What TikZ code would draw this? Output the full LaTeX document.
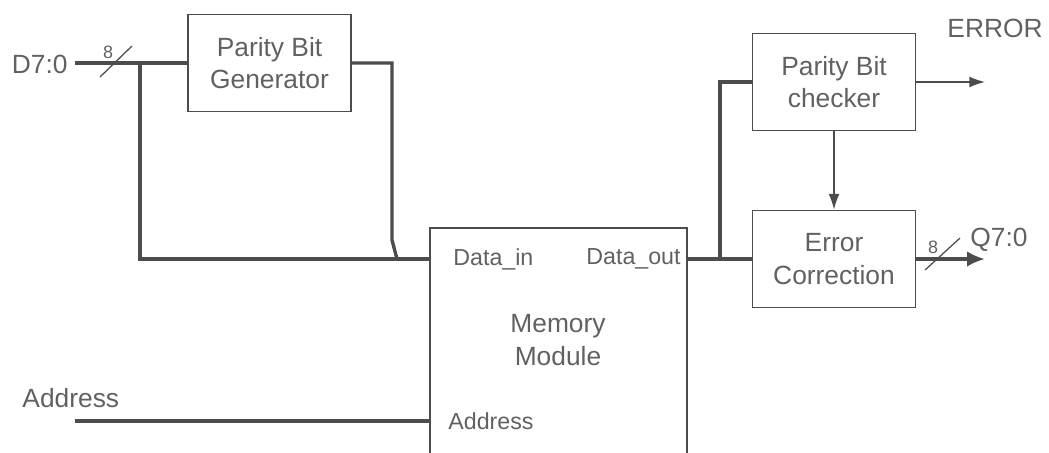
\documentclass[tikz,border=0pt]{standalone}
\usepackage{fontspec}
\setmainfont{Liberation Sans}
\usetikzlibrary{arrows.meta,positioning,calc}

\definecolor{wire}{gray}{0.30}
\definecolor{ink}{gray}{0.38}

\begin{document}
\begin{tikzpicture}[
  x=1cm/60, y=-1cm/60,
  font=\fontsize{12.5}{15.5}\selectfont,
  box/.style={draw=wire,line width=.8pt,align=center,text=ink,inner sep=0pt,
    minimum width=2.72cm,minimum height=1.62cm},
  lbl/.style={text=ink,inner sep=0pt,align=center},
  port/.style={lbl,font=\fontsize{11}{13}\selectfont},
  buswidth/.style={lbl,font=\fontsize{8.5}{9}\selectfont},
  bus/.style={draw=wire,line width=1.6pt},
  sig/.style={draw=wire,line width=.6pt,-{Latex[length=2.6mm,width=1.8mm]}},
  busarr/.style={bus,-{Latex[length=3mm,width=2.6mm]}},
  slash/.style={draw=wire,line width=.6pt}
]
\useasboundingbox (0,0) rectangle (1049,452);
\clip (0,0) rectangle (1049,452);

% blocks
\node[box] (gen) at (269.5,63) {Parity Bit\\Generator};
\node[box] (chk) at (834,82) {Parity Bit\\checker};
\node[box] (corr) at (834,259) {Error\\Correction};
\node[box,minimum width=4.28cm,minimum height=5cm,anchor=north] (mem) at (558.5,227) {};
\node[lbl] (memtxt) at (558,340) {Memory\\Module};

% ports of the memory
\node[port,anchor=west] (pdin) at (453,259) {Data\_in};
\node[port,anchor=east] (pdout) at (681,259) {Data\_out};
\node[port,anchor=west] (paddr) at (448,421) {Address};

% outside labels
\node[lbl,anchor=east] (din) at (68,64) {D7:0};
\node[lbl,anchor=west] (addr) at (22,398) {Address};
\node[lbl] (err) at (995,28) {ERROR};
\node[lbl] (qout) at (999,240) {Q7:0};

\coordinate (d0) at (75,63);
\coordinate (j1) at (140,63);
\coordinate (hop) at (397,259);
\coordinate (a0) at (75,421);
\coordinate (j2) at (720,259);
\coordinate (errend) at (985,82);
\coordinate (qend) at (985,259);

% input bus
\draw[bus] (d0) -- (gen.west);
\draw[bus] (j1) |- (mem.west |- pdin);
\draw[bus] (gen.east) -| (392,240) -- (hop);
\draw[slash] (100,77) -- (132,46);
\node[buswidth] at (108,52) {8};

% address
\draw[bus] (a0) -- (mem.west |- paddr);

% output side
\draw[bus] (mem.east |- pdout) -- (corr.west);
\draw[bus] (j2) |- (chk.west);
\draw[sig] (chk.east) -- (errend);
\draw[sig] (chk.south) -- (corr.north);
\draw[busarr] (corr.east) -- (qend);
\draw[slash] (925,270) -- (960,238);
\node[buswidth] at (933,247) {8};
\end{tikzpicture}
\end{document}
